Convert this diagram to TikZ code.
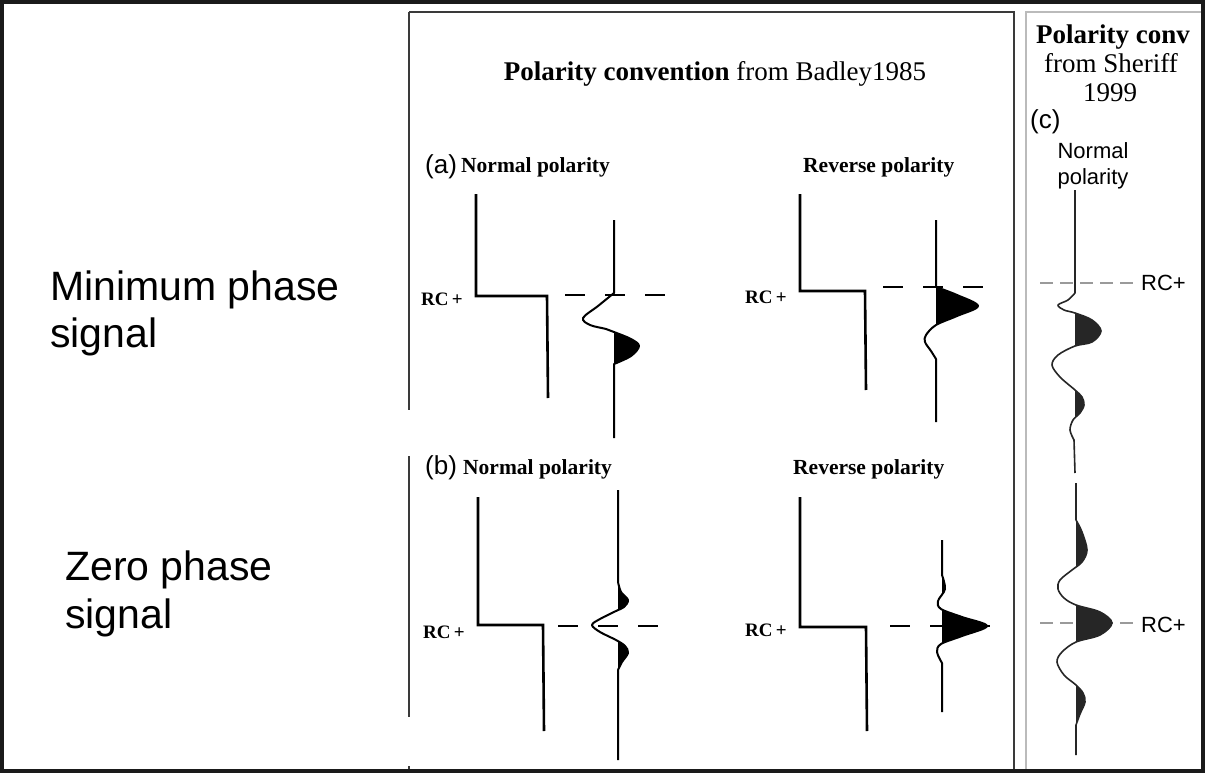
\documentclass[tikz,border=0pt]{standalone}
\usepackage{fontspec}
\setmainfont{Liberation Serif}
\newfontfamily\arialf{Liberation Sans}
\definecolor{framec}{HTML}{1A1A1A}
\definecolor{panelc}{HTML}{3A3A3A}
\definecolor{cpanelc}{HTML}{BBBBBB}
\definecolor{ctrace}{HTML}{262626}
\definecolor{cdash}{HTML}{9A9A9A}
\tikzset{
  trc/.style={line width=2pt,black,line join=round},
  trcc/.style={line width=1.6pt,ctrace,line join=round},
  stepline/.style={line width=2.6pt,black,line join=miter},
  rcdash/.style={line width=1.6pt,black,dash pattern=on 20pt off 20pt},
  cdashed/.style={line width=1.3pt,cdash,dash pattern=on 13pt off 7pt},
  bigsans/.style={font=\arialf\fontsize{41}{48}\selectfont,inner sep=0pt},
  lab/.style={font=\arialf\fontsize{26}{30}\selectfont,inner sep=0pt},
  pol/.style={font=\bfseries\fontsize{21.5}{26}\selectfont,inner sep=0pt},
  rc/.style={font=\bfseries\fontsize{19}{24}\selectfont,inner sep=0pt},
  rcs/.style={font=\arialf\fontsize{22}{26}\selectfont,inner sep=0pt},
  ttl/.style={font=\fontsize{27}{30}\selectfont,inner sep=0pt},
  csans/.style={font=\arialf\fontsize{22}{26}\selectfont,inner sep=0pt},
}
% #1 style, #2 baseline x, #3 top y, #4 bottom y, #5 wiggle coordinates
\newcommand\wavetrace[5]{%
  \begin{scope}
    \clip (#2,#3) rectangle ({#2+150},#4);
    \fill[#1] ({#2-4},#3) -- plot[smooth,tension=0.55] coordinates {#5} -- ({#2-4},#4) -- cycle;
  \end{scope}
  \draw[#1] (#2,#3) -- plot[smooth,tension=0.55] coordinates {#5} -- (#2,#4);
}
\begin{document}
\begin{tikzpicture}[x=1pt,y=-1pt]
\useasboundingbox (0,0) rectangle (1205,773);
\fill[white] (0,0) rectangle (1205,773);

% panels
\draw[panelc,line width=2pt] (409,12) -- (1014,12) -- (1014,771);
\draw[panelc,line width=2pt] (409,12) -- (409,410);
\draw[panelc,line width=2pt] (409,456) -- (409,717);
\draw[panelc,line width=2pt] (409,766) -- (409,771);
\draw[cpanelc,line width=1.5pt] (1026,771) -- (1026,12) -- (1201,12);
\draw[framec,line width=4pt] (2,2) rectangle (1203,771);

% left labels
\node[bigsans,anchor=base west] (minA) at (50,300) {Minimum phase};
\node[bigsans,anchor=base west] (minB) at (50,347) {signal};
\node[bigsans,anchor=base west] (zerA) at (65,580) {Zero phase};
\node[bigsans,anchor=base west] (zerB) at (65,628) {signal};

% title
\node[ttl,anchor=base] (title) at (715,81) {\textbf{Polarity convention} from Badley1985};

% (a) row
\node[lab,anchor=base west] (la) at (425,173) {(a)};
\node[pol,anchor=base west] (an) at (461,172) {Normal polarity};
\node[pol,anchor=base west] (ar) at (803,172) {Reverse polarity};
\node[rc,anchor=base west] (rca1) at (421,305) {RC\,+};
\node[rc,anchor=base west] (rca2) at (745,303) {RC\,+};

% (b) row
\node[lab,anchor=base west] (lb) at (425,474) {(b)};
\node[pol,anchor=base west] (bn) at (463,474) {Normal polarity};
\node[pol,anchor=base west] (br) at (793,474) {Reverse polarity};
\node[rc,anchor=base west] (rcb1) at (423,638) {RC\,+};
\node[rc,anchor=base west] (rcb2) at (745,636) {RC\,+};

% step functions
\draw[stepline] (476,194) -- (476,296) -- (547,296) -- (548,398);
\draw[stepline] (800,194) -- (800,291) -- (865,291) -- (866,390);
\draw[stepline] (478,497) -- (478,625) -- (543,625) -- (544,731);
\draw[stepline] (800,497) -- (800,627) -- (866,627) -- (867,731);

% dashed RC lines
\draw[rcdash] (565,295) -- (682,295);
\draw[rcdash] (883,287) -- (995,287);
\draw[rcdash] (558,626) -- (665,626);
\draw[rcdash] (890,626) -- (995,626);

% wavelets (a)
\wavetrace{trc}{614}{220}{438}{(614,293) (598,306) (583,318) (590,325) (606,329) (614,332) (631,339) (639,346) (631,356) (614,364)}
\wavetrace{trc}{936}{220}{422}{(936,287) (957,295) (978,306) (957,316) (936,325) (926,335) (925,342) (931,351) (936,359)}
% wavelets (b)
\wavetrace{trc}{618}{490}{760}{(618,582) (621,592) (628,600) (624,607) (616,611) (600,619) (592,625) (600,632) (616,640) (625,646) (628,653) (622,662) (618,670)}
\wavetrace{trc}{942}{540}{712}{(942,575) (945,589) (938,601) (941,609) (962,617) (987,626) (962,636) (941,644) (937,652) (942,663)}

% (c) panel
\node[ttl,anchor=base] (ct1) at (1113,44) {\textbf{Polarity conv}};
\node[ttl,anchor=base] (ct2) at (1111,73) {from Sheriff};
\node[ttl,anchor=base] (ct3) at (1110,102) {1999};
\node[lab,anchor=base west] (lc) at (1030,129) {(c)};
\node[csans,anchor=base] (cn1) at (1093,158) {Normal};
\node[csans,anchor=base] (cn2) at (1093,184) {polarity};
\draw[cdashed] (1040,283) -- (1137,283);
\draw[cdashed] (1040,623) -- (1137,623);
\node[rcs,anchor=base west] (rcc1) at (1141,290) {RC+};
\node[rcs,anchor=base west] (rcc2) at (1141,632) {RC+};
\wavetrace{trcc}{1075}{190}{473}{(1075,293) (1068,300) (1058,305) (1064,310) (1075,313) (1092,320) (1101,331) (1092,342) (1075,346) (1058,355) (1052,365) (1060,377) (1075,390) (1082,397) (1084,405) (1080,413) (1073,420) (1070,430) (1074,440)}
\wavetrace{trcc}{1076}{483}{755}{(1076,520) (1082,532) (1087,550) (1082,562) (1072,570) (1060,580) (1058,589) (1064,598) (1076,605) (1100,612) (1112,623) (1100,635) (1076,642) (1062,652) (1057,662) (1064,675) (1076,685) (1083,693) (1085,702) (1080,714) (1076,725)}
\end{tikzpicture}
\end{document}
